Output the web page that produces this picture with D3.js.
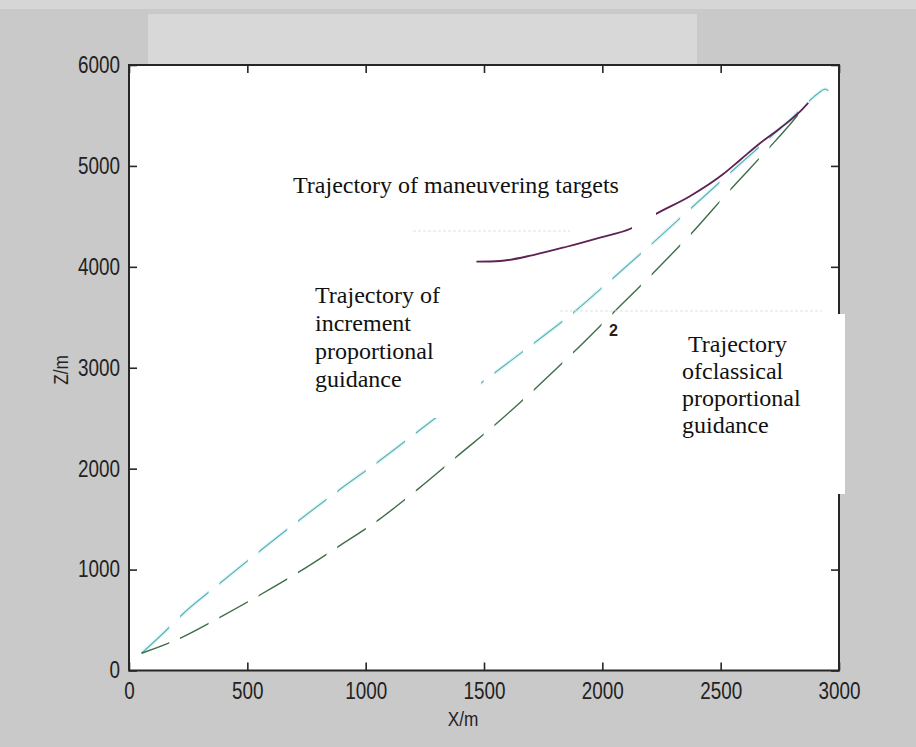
<!DOCTYPE html>
<html>
<head>
<meta charset="utf-8">
<script src="https://cdn.jsdelivr.net/npm/d3@7"></script>
<style>
  html, body { margin: 0; padding: 0; background: #c9c9c9; }
  svg { display: block; }
</style>
</head>
<body>
<svg id="chart" width="916" height="747"></svg>
<script>
// Missile trajectory under classical proportional guidance (X, Z in metres)
const classicalX = [53, 215, 384, 553, 720, 884, 1053, 1222, 1385, 1554, 1715, 1877, 2040, 2215, 2384, 2539, 2701, 2807, 2865];
const classicalZ = [171, 319, 527, 748, 979, 1227, 1490, 1800, 2120, 2450, 2790, 3150, 3530, 3940, 4350, 4760, 5170, 5450, 5620];

// Missile trajectory under increment proportional guidance
const incrementX = [53, 173, 215, 384, 553, 720, 884, 1053, 1222, 1385, 1554, 1715, 1877, 2046, 2215, 2384, 2553, 2722, 2807, 2863, 2913, 2941, 2955];
const incrementZ = [171, 434, 533, 864, 1184, 1491, 1782, 2069, 2370, 2665, 2965, 3250, 3545, 3890, 4240, 4600, 4960, 5310, 5488, 5620, 5720, 5760, 5745];

// Maneuvering target trajectory
const targetX = [1468, 1568, 1708, 1849, 1990, 2121, 2227, 2370, 2511, 2582, 2666, 2751, 2835, 2870];
const targetZ = [4051, 4058, 4117, 4199, 4290, 4380, 4525, 4700, 4920, 5059, 5224, 5373, 5538, 5625];

const xTicks = [0, 500, 1000, 1500, 2000, 2500, 3000];
const zTicks = [0, 1000, 2000, 3000, 4000, 5000, 6000];
const xLabel = "X/m";
const zLabel = "Z/m";
const targetLabel = ["Trajectory of maneuvering targets"];
const incrementLabel = ["Trajectory of", "increment", "proportional", "guidance"];
const classicalLabel = ["\u00a0Trajectory", "ofclassical", "proportional", "guidance"];

const svg = d3.select("#chart");
const W = 916, H = 747;
const plot = { left: 129, right: 839, top: 65, bottom: 670.5 };

const x = d3.scaleLinear().domain([0, 3000]).range([plot.left, plot.right]);
const z = d3.scaleLinear().domain([0, 6000]).range([plot.bottom, plot.top]);

// figure background
svg.append("rect").attr("width", W).attr("height", H).attr("fill", "#c9c9c9");
svg.append("rect").attr("x", 0).attr("y", 0).attr("width", W).attr("height", 9).attr("fill", "#d6d6d6");
svg.append("rect").attr("x", 148).attr("y", 14).attr("width", 549).attr("height", plot.top - 14).attr("fill", "#d8d8d8");

// axes area
svg.append("rect")
  .attr("x", plot.left).attr("y", plot.top)
  .attr("width", plot.right - plot.left).attr("height", plot.bottom - plot.top)
  .attr("fill", "#ffffff");

const toPoints = (xs, zs) => xs.map((v, i) => [v, zs[i]]);
const line = d3.line().x(d => x(d[0])).y(d => z(d[1])).curve(d3.curveMonotoneX);

// dash strips: the dashed trajectories break at a fixed horizontal period
const period = 39.3, dashLen = 28.6, phase = 11.7;
const clip = svg.append("defs").append("clipPath").attr("id", "dashClip");
for (let s = plot.left + phase - period; s < plot.right + period; s += period) {
  clip.append("rect").attr("x", s).attr("y", plot.top - 5)
    .attr("width", dashLen).attr("height", plot.bottom - plot.top + 10);
}

const lines = svg.append("g");

const dashed = lines.append("g").attr("clip-path", "url(#dashClip)");
// soft halo of the increment-guidance curve
dashed.append("path")
  .attr("d", line(toPoints(incrementX, incrementZ)))
  .attr("fill", "none").attr("stroke", "#e6f7f7").attr("stroke-width", 4);
dashed.append("path")
  .attr("d", line(toPoints(incrementX, incrementZ)))
  .attr("fill", "none").attr("stroke", "#5ab3b8").attr("stroke-width", 1.2);
dashed.append("path")
  .attr("d", line(toPoints(classicalX, classicalZ)))
  .attr("fill", "none").attr("stroke", "#3d6e48").attr("stroke-width", 1.4);

// target trajectory (solid)
lines.append("path")
  .attr("d", line(toPoints(targetX, targetZ)))
  .attr("fill", "none").attr("stroke", "#5e2352").attr("stroke-width", 1.8);

// small occluding patch over the target curve
lines.append("rect").attr("x", 632).attr("y", 205).attr("width", 24).attr("height", 30).attr("fill", "#ffffff");

// faint dotted remnants
svg.append("line").attr("x1", 413).attr("x2", 570).attr("y1", 231).attr("y2", 231)
  .attr("stroke", "#e0e0e0").attr("stroke-dasharray", "3,2");
svg.append("line").attr("x1", 560).attr("x2", 822).attr("y1", 311).attr("y2", 311)
  .attr("stroke", "#e0e0e0").attr("stroke-dasharray", "3,2");

// frame and inward ticks
const axisColor = "#262626";
const tickFont = "'Liberation Sans', Arial, Helvetica, sans-serif";
const squeeze = 0.82;   // condensed look of the axis lettering

const gx = svg.append("g").attr("transform", `translate(0,${plot.bottom})`)
  .call(d3.axisBottom(x).tickValues(xTicks).tickFormat(d3.format("d"))
    .tickSizeInner(-8).tickSizeOuter(0).tickPadding(12));
const gy = svg.append("g").attr("transform", `translate(${plot.left},0)`)
  .call(d3.axisLeft(z).tickValues(zTicks).tickFormat(d3.format("d"))
    .tickSizeInner(-8).tickSizeOuter(0).tickPadding(9));
const gt = svg.append("g").attr("transform", `translate(0,${plot.top})`)
  .call(d3.axisTop(x).tickValues(xTicks).tickSizeInner(-8).tickSizeOuter(0).tickFormat(""));
const gr = svg.append("g").attr("transform", `translate(${plot.right},0)`)
  .call(d3.axisRight(z).tickValues(zTicks).tickSizeInner(-8).tickSizeOuter(0).tickFormat(""));

[gx, gy, gt, gr].forEach(g => {
  g.select(".domain").remove();
  g.selectAll(".tick line").attr("stroke", axisColor).attr("stroke-width", 1.6);
  g.selectAll("text").attr("fill", "#222").style("font-family", tickFont).style("font-size", "23px")
    .attr("transform", `scale(${squeeze},1)`);
});
gy.selectAll(".tick text").attr("x", -9 / squeeze);

svg.append("rect")
  .attr("x", plot.left).attr("y", plot.top)
  .attr("width", plot.right - plot.left).attr("height", plot.bottom - plot.top)
  .attr("fill", "none").attr("stroke", axisColor).attr("stroke-width", 2);

// axis titles
svg.append("text").attr("transform", `translate(463,726) scale(${squeeze},1)`).attr("text-anchor", "middle")
  .attr("fill", "#222").style("font-family", tickFont).style("font-size", "21px").text(xLabel);
svg.append("text").attr("transform", `translate(68,370) rotate(-90) scale(${squeeze},1)`).attr("text-anchor", "middle")
  .attr("fill", "#222").style("font-family", tickFont).style("font-size", "21px").text(zLabel);

// annotation boxes
svg.append("rect").attr("x", 300).attr("y", 272).attr("width", 181).attr("height", 146).attr("fill", "#ffffff");
svg.append("rect").attr("x", 620).attr("y", 314).attr("width", 225).attr("height", 180).attr("fill", "#ffffff");

const serif = "'Liberation Serif', 'Times New Roman', Times, serif";
function annotate(linesText, x0, y0, step) {
  const t = svg.append("text").attr("fill", "#111").style("font-family", serif).style("font-size", "24px");
  linesText.forEach((s, i) => {
    t.append("tspan").attr("x", x0).attr("y", y0 + i * step).text(s);
  });
}
annotate(targetLabel, 293, 193, 0);
annotate(incrementLabel, 315, 303, 28);
annotate(classicalLabel, 682, 352, 27);

// stray glyph near the classical curve
svg.append("text").attr("x", 609).attr("y", 336).attr("fill", "#222")
  .style("font-family", tickFont).style("font-size", "16px").style("font-weight", "bold")
  .attr("transform", "scale(1,1)").text("2");
</script>
</body>
</html>
